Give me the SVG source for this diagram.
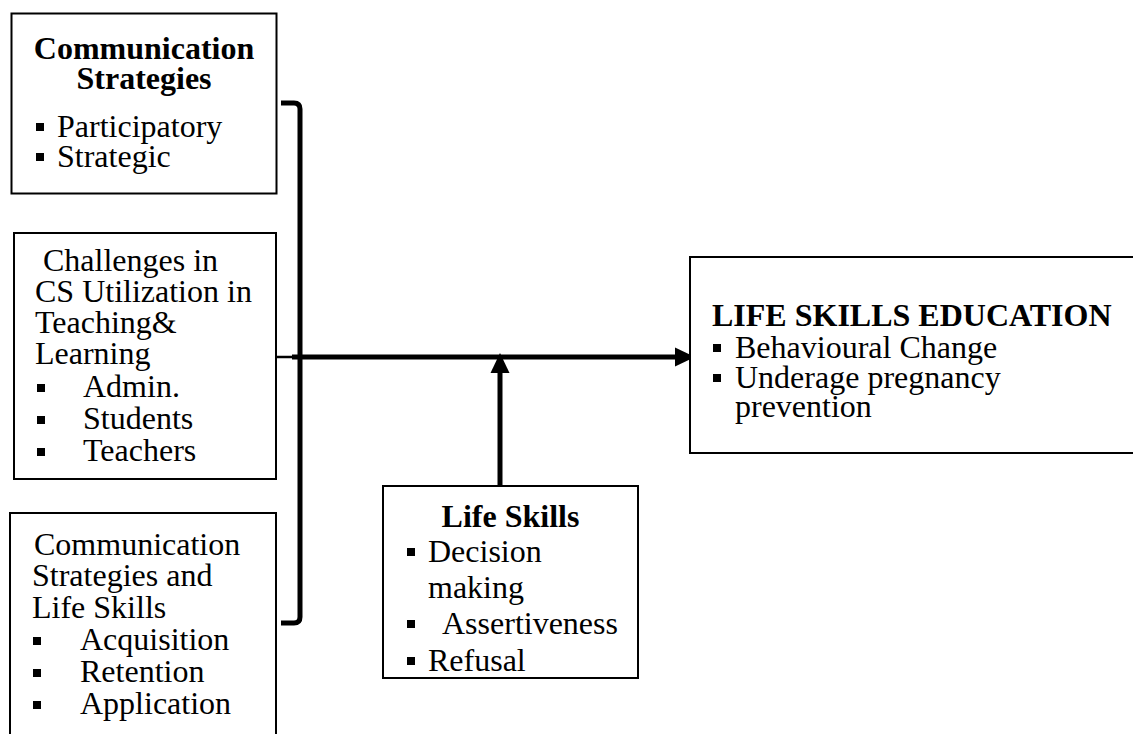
<svg xmlns="http://www.w3.org/2000/svg" width="1133" height="734" viewBox="0 0 1133 734">
  <style>
    .box { fill: #ffffff; stroke: #000000; stroke-width: 2; }
    .t { font-family: "Liberation Serif", "Times New Roman", serif; font-size: 32px; fill: #000000; }
    .b { font-weight: bold; }
    .mid { text-anchor: middle; }
    .dot { fill: #000000; }
    .thick { fill: none; stroke: #000000; stroke-width: 5; }
    .thin { fill: none; stroke: #000000; stroke-width: 2.5; }
  </style>
  <defs>
    <marker id="arrowhead" viewBox="0 0 20 20" markerWidth="20" markerHeight="20" refX="2" refY="10" orient="auto" markerUnits="userSpaceOnUse">
      <path d="M0,0.5 L20,10 L0,19.5 Z" fill="#000000"/>
    </marker>
  </defs>

  <rect width="1133" height="734" fill="#ffffff"/>

  <!-- links between the blocks -->
  <g id="connectors">
    <!-- bracket joining the three left-hand blocks -->
    <path class="thick" d="M281,103 L294,103 Q300,103 300,109 L300,617 Q300,623 294,623 L281,623"/>
    <!-- stub from the middle block into the main line -->
    <line class="thin" x1="277" y1="357" x2="294" y2="357"/>
    <!-- main line to the outcome -->
    <line class="thick" x1="292" y1="357" x2="677" y2="357" marker-end="url(#arrowhead)"/>
    <!-- life skills feeding the main line -->
    <line class="thick" x1="500" y1="486" x2="500" y2="371" marker-end="url(#arrowhead)"/>
  </g>

  <g id="node-communication-strategies">
    <rect class="box" x="11.5" y="13.5" width="265" height="180"/>
    <text class="t b mid" x="144" y="59">Communication</text>
    <text class="t b mid" x="144" y="89">Strategies</text>
    <rect class="dot" x="36" y="123" width="8" height="8"/>
    <text class="t" x="57" y="137">Participatory</text>
    <rect class="dot" x="36" y="153" width="8" height="8"/>
    <text class="t" x="57" y="167">Strategic</text>
  </g>

  <g id="node-challenges">
    <rect class="box" x="14" y="233" width="262" height="246"/>
    <text class="t" x="43" y="271">Challenges in</text>
    <text class="t" x="35" y="302">CS Utilization in</text>
    <text class="t" x="35" y="333">Teaching&amp;</text>
    <text class="t" x="35" y="364">Learning</text>
    <rect class="dot" x="37" y="384" width="8" height="8"/>
    <text class="t" x="83" y="397">Admin.</text>
    <rect class="dot" x="37" y="416" width="8" height="8"/>
    <text class="t" x="83" y="429">Students</text>
    <rect class="dot" x="37" y="448" width="8" height="8"/>
    <text class="t" x="83" y="461">Teachers</text>
  </g>

  <g id="node-cs-and-life-skills">
    <rect class="box" x="10" y="513" width="266" height="240"/>
    <text class="t" x="34" y="555">Communication</text>
    <text class="t" x="32" y="586">Strategies and</text>
    <text class="t" x="32" y="618">Life Skills</text>
    <rect class="dot" x="33" y="637" width="8" height="8"/>
    <text class="t" x="80" y="650">Acquisition</text>
    <rect class="dot" x="33" y="669" width="8" height="8"/>
    <text class="t" x="80" y="682">Retention</text>
    <rect class="dot" x="33" y="701" width="8" height="8"/>
    <text class="t" x="80" y="714">Application</text>
  </g>

  <g id="node-life-skills">
    <rect class="box" x="383" y="486" width="255" height="192"/>
    <text class="t b mid" x="510.5" y="527">Life Skills</text>
    <rect class="dot" x="407" y="548" width="8" height="8"/>
    <text class="t" x="428" y="562">Decision</text>
    <text class="t" x="428" y="598">making</text>
    <rect class="dot" x="407" y="620" width="8" height="8"/>
    <text class="t" x="442" y="634">Assertiveness</text>
    <rect class="dot" x="407" y="657" width="8" height="8"/>
    <text class="t" x="428" y="671">Refusal</text>
  </g>

  <g id="node-life-skills-education">
    <rect class="box" x="690" y="257" width="450" height="196"/>
    <text class="t b" x="712" y="326">LIFE SKILLS EDUCATION</text>
    <rect class="dot" x="713" y="344" width="8" height="8"/>
    <text class="t" x="735" y="358">Behavioural Change</text>
    <rect class="dot" x="713" y="374" width="8" height="8"/>
    <text class="t" x="735" y="388">Underage pregnancy</text>
    <text class="t" x="735" y="417">prevention</text>
  </g>
</svg>
